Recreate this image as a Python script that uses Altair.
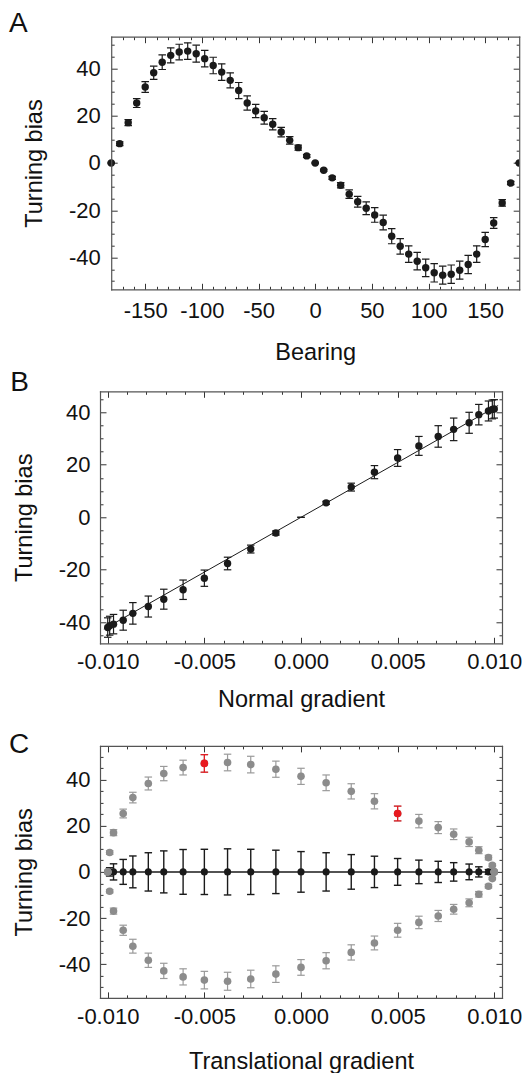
import altair as alt
import pandas as pd

FONT = "Liberation Sans"
TXT = "#111111"
TICK = "#333333"
FRAME = "#555555"
BLACK = "#1a1a1a"
GRAY = "#8c8c8c"
GRAY_BAR = "#9a9a9a"
RED = "#e8191f"

panel_letters = ["A", "B", "C"]

# ---------------- Panel A ----------------
bearing = [-180, -172.5, -165, -157.5, -150, -142.5, -135, -127.5, -120, -112.5,
           -105, -97.5, -90, -82.5, -75, -67.5, -60, -52.5, -45, -37.5, -30,
           -22.5, -15, -7.5, 0, 7.5, 15, 22.5, 30, 37.5, 45, 52.5, 60, 67.5, 75,
           82.5, 90, 97.5, 105, 112.5, 120, 127.5, 135, 142.5, 150, 157.5, 165,
           172.5, 180]
bias_a = [0.0, 8.2, 17.1, 25.4, 32.2, 38.2, 42.7, 45.6, 47.0, 47.4, 46.3, 44.2,
          41.3, 38.5, 35.0, 30.7, 25.4, 22.0, 19.2, 16.4, 13.1, 9.6, 6.5, 3.0,
          0.0, -3.1, -6.3, -9.4, -13.2, -16.4, -19.2, -22.0, -25.2, -31.0, -35.3,
          -38.6, -41.6, -44.4, -46.5, -47.5, -47.1, -45.4, -43.0, -38.6, -32.4,
          -25.4, -16.9, -8.5, 0.0]
err_a = [0.3, 0.8, 1.3, 1.9, 2.3, 2.8, 3.1, 3.2, 3.3, 3.5, 3.6, 3.5, 3.5, 3.5,
         3.2, 3.4, 3.0, 2.8, 2.7, 2.4, 2.0, 1.6, 1.1, 0.6, 0.3, 0.4, 0.6, 1.1,
         1.8, 2.3, 2.7, 3.1, 3.1, 3.2, 3.3, 3.5, 3.7, 3.7, 3.9, 3.8, 3.9, 3.8,
         3.9, 3.5, 3.0, 2.3, 1.4, 0.7, 0.2]
a_x_major = [-150, -100, -50, 0, 50, 100, 150]
a_x_minor = [-170, -160, -140, -130, -120, -110, -90, -80, -70, -60, -40, -30,
             -20, -10, 10, 20, 30, 40, 60, 70, 80, 90, 110, 120, 130, 140, 160, 170]
a_y_major = [-40, -20, 0, 20, 40]
a_y_minor = [-50, -45, -35, -30, -25, -15, -10, -5, 5, 10, 15, 25, 30, 35, 45, 50]

# ---------------- Panel B ----------------
normal_grad = [-0.0100, -0.0099, -0.0097, -0.0092, -0.0087, -0.0079, -0.0071,
               -0.0061, -0.0050, -0.0038, -0.0026, -0.0013, 0.0, 0.0013, 0.0026,
               0.0038, 0.0050, 0.0061, 0.0071, 0.0079, 0.0087, 0.0092, 0.0097,
               0.0099, 0.0100]
bias_b = [-42.0, -41.3, -40.7, -39.2, -36.6, -34.0, -31.2, -27.6, -23.2, -17.6,
          -12.1, -6.0, 0.0, 5.5, 11.5, 17.2, 22.6, 27.2, 30.8, 33.5, 36.0, 39.1,
          40.5, 41.1, 41.3]
err_b = [3.7, 3.6, 3.7, 3.8, 4.1, 4.0, 3.8, 3.7, 3.1, 2.4, 1.5, 0.8, 0.0, 0.6,
         1.5, 2.5, 3.2, 3.6, 4.1, 4.3, 4.0, 3.9, 3.8, 3.6, 3.5]
fit_b_x = [-0.0102, 0.0102]
fit_b_y = [-42.6, 42.6]
grad_x_major = [-0.010, -0.005, 0.0, 0.005, 0.010]
grad_x_minor = [-0.009, -0.008, -0.007, -0.006, -0.004, -0.003, -0.002, -0.001,
                0.001, 0.002, 0.003, 0.004, 0.006, 0.007, 0.008, 0.009]
b_y_minor = [-45, -35, -30, -25, -15, -10, -5, 5, 10, 15, 25, 30, 35, 45]

# ---------------- Panel C ----------------
trans_grad = [-0.0100, -0.0099, -0.0097, -0.0092, -0.0087, -0.0079, -0.0071,
              -0.0061, -0.0050, -0.0038, -0.0026, -0.0013, 0.0, 0.0013, 0.0026,
              0.0038, 0.0050, 0.0061, 0.0071, 0.0079, 0.0087, 0.0092, 0.0097,
              0.0099, 0.0100]
upper_c = [0.0, 8.4, 17.0, 25.3, 32.2, 38.3, 42.6, 45.2, 47.0, 47.4, 46.5, 44.5,
           41.4, 38.6, 34.9, 30.6, 25.3, 22.0, 19.2, 16.3, 13.0, 9.4, 6.2, 2.9, 0.0]
upper_err = [0.3, 0.8, 1.3, 1.9, 2.3, 2.8, 3.1, 3.2, 3.8, 3.6, 3.6, 3.5, 3.5,
             3.4, 3.3, 3.3, 3.2, 2.9, 2.6, 2.3, 2.0, 1.5, 1.0, 0.6, 0.2]
lower_c = [0.0, -8.4, -17.0, -25.3, -32.2, -38.3, -42.9, -45.5, -46.9, -47.4,
           -46.4, -44.3, -41.4, -38.5, -34.9, -30.8, -25.3, -21.9, -19.1, -16.2,
           -13.4, -9.7, -6.2, -2.9, 0.0]
lower_err = [0.2, 0.7, 1.3, 2.2, 3.0, 3.1, 3.3, 3.5, 3.8, 3.9, 3.8, 3.6, 3.4,
             3.5, 3.3, 3.0, 3.0, 2.7, 2.4, 2.1, 1.7, 1.2, 0.8, 0.4, 0.2]
mean_c = [0.0, 0.0, 0.0, 0.0, 0.0, 0.0, 0.0, 0.0, 0.0, 0.0, 0.0, 0.0, 0.0, 0.0,
          0.0, 0.0, 0.0, 0.0, 0.0, 0.0, 0.0, 0.0, 0.0, 0.0, 0.0]
mean_err = [0.0, 1.8, 3.5, 5.4, 6.9, 8.3, 9.1, 9.7, 9.8, 10.0, 9.8, 9.4, 8.8,
            8.3, 7.5, 6.8, 5.8, 5.1, 4.6, 4.0, 3.4, 2.2, 1.0, 0.5, 0.0]
red_x = [-0.0050, 0.0050]
red_y = [47.0, 25.3]
red_err = [3.8, 3.2]
c_y_minor = [-50, -45, -35, -30, -25, -15, -10, -5, 5, 10, 15, 25, 30, 35, 45, 50]


def table(x, y, e):
    df = pd.DataFrame({"x": x, "y": y, "err": e})
    df["lo"] = df["y"] - df["err"]
    df["hi"] = df["y"] + df["err"]
    return df


def xenc(field, sc, axis=None):
    return alt.X(field, type="quantitative", scale=sc, axis=axis)


def yenc(field, sc, axis=None):
    return alt.Y(field, type="quantitative", scale=sc, axis=axis)


def series(df, xsc, ysc, color, bar_color, size, clip, point_filter=None,
           bar_width=1.2):
    base = alt.Chart(df)
    rule = base.mark_rule(color=bar_color, strokeWidth=bar_width, clip=clip).encode(
        x=xenc("x", xsc), y=yenc("lo", ysc), y2="hi:Q")
    lo = base.mark_tick(orient="horizontal", size=7.5, thickness=bar_width,
                        color=bar_color, opacity=1, clip=clip).encode(
        x=xenc("x", xsc), y=yenc("lo", ysc))
    hi = base.mark_tick(orient="horizontal", size=7.5, thickness=bar_width,
                        color=bar_color, opacity=1, clip=clip).encode(
        x=xenc("x", xsc), y=yenc("hi", ysc))
    pts = base.mark_circle(size=size, color=color, opacity=1, clip=clip).encode(
        x=xenc("x", xsc), y=yenc("y", ysc))
    if point_filter is not None:
        pts = pts.transform_filter(point_filter)
    return [rule, lo, hi, pts]


LABEL_EXPR = "replace(datum.label, '\u2212', '-')"


def tick_axis(orient, values, size, shift=0, labels=False, title=None, fmt=None,
              label_pad=8, title_pad=10):
    kw = dict(orient=orient, values=values, tickSize=size, offset=-(size + shift),
              ticks=True, domain=False, grid=False, tickColor=TICK,
              tickWidth=1, labels=labels, title=title, minExtent=0)
    if labels:
        kw.update(labelFont=FONT, labelFontSize=22, labelColor=TXT,
                  labelPadding=label_pad, labelFlush=False, labelOverlap=False,
                  format=fmt, labelExpr=LABEL_EXPR)
    if title is not None:
        kw.update(titleFont=FONT, titleFontSize=23.5, titleFontWeight="normal",
                  titleColor=TXT, titlePadding=title_pad)
    return alt.Axis(**kw)


def frame_axis(orient, shift=0):
    return alt.Axis(orient=orient, offset=-shift, domain=True, ticks=False,
                    labels=False, grid=False, title=None, minExtent=0,
                    domainColor=FRAME, domainWidth=1.2, domainCap="square",
                    zindex=1)


def frame(df, xsc, ysc, xmaj, xmin, ymaj, ymin, xtitle, xfmt, xlp, xtp, ylp, ytp,
          shift=0):
    base = alt.Chart(df)

    def carrier(ax_x, ax_y):
        return base.mark_point(opacity=0, size=1).encode(
            x=xenc("x", xsc, ax_x), y=yenc("y", ysc, ax_y))

    return [
        carrier(tick_axis("bottom", xmaj, 6, 0, True, xtitle, xfmt, xlp, xtp),
                tick_axis("left", ymaj, 6, shift, True, "Turning bias", "d", ylp, ytp)),
        carrier(tick_axis("bottom", xmin, 3), tick_axis("left", ymin, 3, shift)),
        carrier(tick_axis("top", xmaj, 6), tick_axis("right", ymaj, 6)),
        carrier(tick_axis("top", xmin, 3), tick_axis("right", ymin, 3)),
        carrier(frame_axis("bottom"), frame_axis("left", shift)),
        carrier(frame_axis("top"), frame_axis("right")),
    ]


def letter(ch, dx, dy):
    return alt.Chart(pd.DataFrame({"t": [ch]})).mark_text(
        align="left", baseline="alphabetic", font=FONT, fontSize=28,
        color=TXT).encode(text="t:N", x=alt.value(dx), y=alt.value(dy))


# Panel A (its frame sits 11.2 px to the right of panels B and C)
A_SHIFT = 11.2
W_A, H_A = 419.2, 252.6
df_a = table(bearing, bias_a, err_a)
xsc_a = alt.Scale(domain=[-180, 180], range=[A_SHIFT, W_A], nice=False, zero=False)
ysc_a = alt.Scale(domain=[-53.5, 53.5], nice=False, zero=False)
chart_a = alt.layer(
    *frame(df_a, xsc_a, ysc_a, a_x_major, a_x_minor, a_y_major, a_y_minor,
           "Bearing", "d", 10.8, 19.5, 11, 22, shift=A_SHIFT),
    *series(df_a, xsc_a, ysc_a, BLACK, BLACK, 55, True),
    letter(panel_letters[0], -91.1, -5),
).properties(width=W_A, height=H_A).resolve_axis(x="independent", y="independent")

# Panel B
W, H = 402, 252
df_b = table(normal_grad, bias_b, err_b)
fit_b = pd.DataFrame({"x": fit_b_x, "y": fit_b_y})
xsc_g = alt.Scale(domain=[-0.0104, 0.0104], nice=False, zero=False)
ysc_b = alt.Scale(domain=[-48, 48], nice=False, zero=False)
line_b = alt.Chart(fit_b).mark_line(color=BLACK, strokeWidth=1).encode(
    x=xenc("x", xsc_g), y=yenc("y", ysc_b))
chart_b = alt.layer(
    *frame(df_b, xsc_g, ysc_b, grad_x_major, grad_x_minor, a_y_major, b_y_minor,
           "Normal gradient", ".3f", 8.4, 14.6, 10, 22),
    line_b,
    *series(df_b, xsc_g, ysc_b, BLACK, BLACK, 55, False, "datum.err > 0"),
    letter(panel_letters[1], -89.8, 0),
).properties(width=W, height=H).resolve_axis(x="independent", y="independent")

# Panel C
df_up = table(trans_grad, upper_c, upper_err)
df_low = table(trans_grad, lower_c, lower_err)
df_mean = table(trans_grad, mean_c, mean_err)
df_red = table(red_x, red_y, red_err)
ysc_c = alt.Scale(domain=[-54.6, 54.6], nice=False, zero=False)
line_c = alt.Chart(df_mean).mark_line(color=BLACK, strokeWidth=1.5).encode(
    x=xenc("x", xsc_g), y=yenc("y", ysc_c))
chart_c = alt.layer(
    *frame(df_mean, xsc_g, ysc_c, grad_x_major, grad_x_minor, a_y_major, c_y_minor,
           "Translational gradient", ".3f", 9, 21.3, 10, 22),
    line_c,
    *series(df_mean, xsc_g, ysc_c, BLACK, BLACK, 50, False, bar_width=1.4),
    *series(df_up, xsc_g, ysc_c, GRAY, GRAY_BAR, 58, False),
    *series(df_low, xsc_g, ysc_c, GRAY, GRAY_BAR, 58, False),
    *series(df_red, xsc_g, ysc_c, RED, RED, 58, False),
    letter(panel_letters[2], -90.9, 7.3),
).properties(width=W, height=H).resolve_axis(x="independent", y="independent")

chart = alt.vconcat(
    alt.vconcat(chart_a, chart_b, spacing=4.6),
    chart_c,
    spacing=19.2,
).properties(
    padding={"left": 0, "top": 1.7, "right": 0, "bottom": 0}
).configure_view(strokeWidth=0)

chart.save("out.html", embed_options={"renderer": "svg", "actions": False})
